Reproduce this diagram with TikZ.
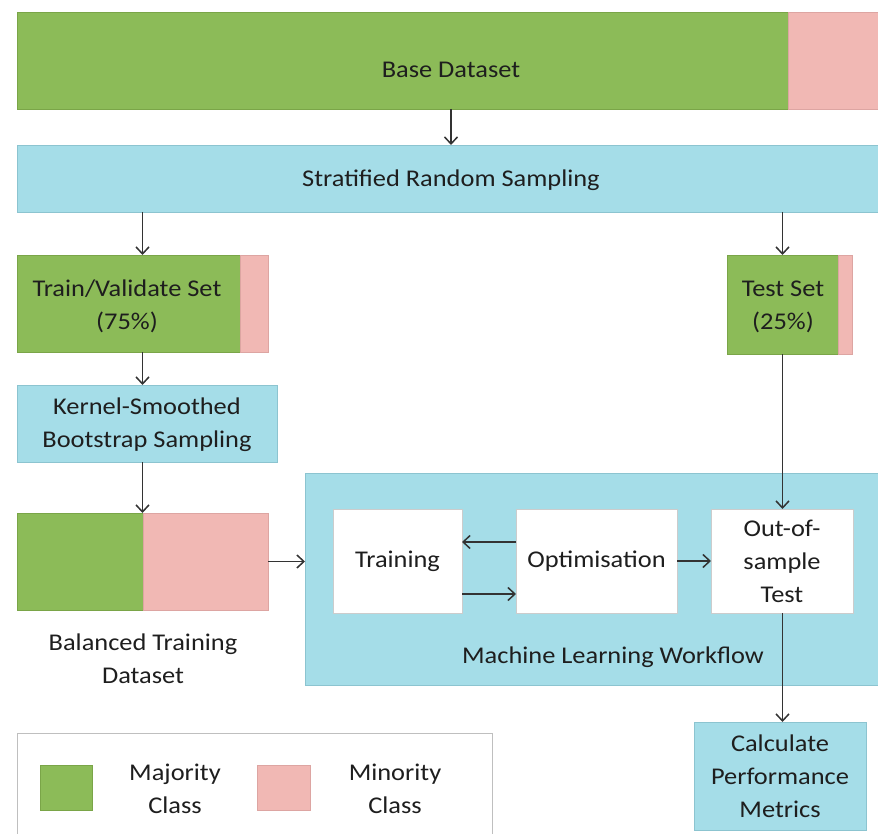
\documentclass[tikz,border=0pt]{standalone}
\usepackage{fontspec}
\setmainfont{Carlito}[FakeStretch=1.1]
\usetikzlibrary{arrows.meta,positioning,fit}
\definecolor{majg}{HTML}{8CBB58}
\definecolor{majgb}{HTML}{7AA548}
\definecolor{minp}{HTML}{F1B8B4}
\definecolor{minpb}{HTML}{DDA5A2}
\definecolor{cyanf}{HTML}{A5DDE8}
\definecolor{cyanb}{HTML}{8CC4D0}
\definecolor{txt}{HTML}{1E1E1E}
\definecolor{arrc}{HTML}{333333}
\tikzset{
  rect/.style={anchor=north west, inner sep=0pt, outer sep=0pt, line width=0.8pt},
  gbox/.style={rect, fill=majg, draw=majgb},
  pbox/.style={rect, fill=minp, draw=minpb},
  cbox/.style={rect, fill=cyanf, draw=cyanb},
  wbox/.style={rect, fill=white, draw=black!20},
  lbl/.style={text=txt, font=\fontsize{24}{33}\selectfont, align=center, inner sep=0pt},
  arr/.style={draw=arrc, line width=1.5pt, -{Straight Barb[length=7pt,width=13pt,line width=1.5pt]}},
  grp/.style={inner sep=0pt, outer sep=0pt}
}
\begin{document}
\begin{tikzpicture}[x=1pt,y=-1pt]
\useasboundingbox (0,0) rectangle (878,834);
% Base dataset
\node[gbox, minimum width=771pt, minimum height=97pt] (bg) at (17,12) {};
\node[pbox, minimum width=95pt, minimum height=97pt] (bp) at (788,12) {};
\node[lbl] (basetxt) at (451,70) {Base Dataset};
% Stratified
\node[cbox, minimum width=866pt, minimum height=67pt] (strat) at (17,145) {};
\node[lbl] at (451,180) {Stratified Random Sampling};
% Train/validate
\node[gbox, minimum width=223pt, minimum height=97pt] (tvg) at (17,255) {};
\node[pbox, minimum width=28pt, minimum height=97pt] (tvp) at (240,255) {};
\node[grp, fit=(tvg)(tvp)] (tv) {};
\node[lbl] at (127,306) {Train/Validate Set\\(75\%)};
% Test set
\node[gbox, minimum width=111pt, minimum height=99pt] (tsg) at (727,255) {};
\node[pbox, minimum width=14pt, minimum height=99pt] (tsp) at (838,255) {};
\node[lbl] at (783,307) {Test Set\\(25\%)};
% Kernel
\node[cbox, minimum width=260pt, minimum height=77pt] (kern) at (17,385) {};
\node[lbl] at (147,425) {Kernel-Smoothed\\Bootstrap Sampling};
% Balanced
\node[gbox, minimum width=126pt, minimum height=97pt] (balg) at (17,513) {};
\node[pbox, minimum width=125pt, minimum height=97pt] (balp) at (143,513) {};
\node[grp, fit=(balg)(balp)] (bal) {};
\node[lbl] at (143,659) {Balanced Training\\Dataset};
% ML workflow
\node[cbox, minimum width=578pt, minimum height=212pt] (ml) at (305,473) {};
\node[lbl] at (613,657) {Machine Learning Workflow};
\node[wbox, minimum width=129pt, minimum height=104pt] (train) at (333,509) {};
\node[lbl] at (train.center) {Training};
\node[wbox, minimum width=161pt, minimum height=104pt] (opt) at (516,509) {};
\node[lbl] at (opt.center) {Optimisation};
\node[wbox, minimum width=142pt, minimum height=104pt] (out) at (711,509) {};
\node[lbl] at (out.center) {Out-of-\\sample\\Test};
% Calculate
\node[cbox, minimum width=172pt, minimum height=108pt] (calc) at (694,722) {};
\node[lbl] at (calc.center) {Calculate\\Performance\\Metrics};
% Legend
\node[rect, draw=black!25, fill=white, minimum width=475pt, minimum height=120pt] (leg) at (17,733) {};
\node[gbox, minimum width=52pt, minimum height=45pt] (lg) at (40,765) {};
\node[pbox, minimum width=53pt, minimum height=45pt] (lp) at (257,765) {};
\node[lbl] at (175,789) {Majority\\Class};
\node[lbl] at (395,789) {Minority\\Class};
% Arrows
\draw[arr] (basetxt |- bg.south) -- (basetxt |- strat.north);
\draw[arr] (strat.south -| tv.north) -- (tv.north);
\draw[arr] (strat.south -| tsg.north) -- (tsg.north);
\draw[arr] (tv.south) -- (kern.north -| tv.south);
\draw[arr] (kern.south -| bal.north) -- (bal.north);
\draw[arr] (bal.east) -- (ml.west |- bal.east);
\draw[arr] ([yshift=19pt]opt.west) -- ([yshift=19pt]train.east);
\draw[arr] ([yshift=-33pt]train.east) -- ([yshift=-33pt]opt.west);
\draw[arr] (opt.east) -- (out.west);
\draw[arr] (tsg.south) -- (out.north -| tsg.south);
\draw[arr] (out.south -| tsg.south) -- (calc.north -| tsg.south);
\end{tikzpicture}
\end{document}
